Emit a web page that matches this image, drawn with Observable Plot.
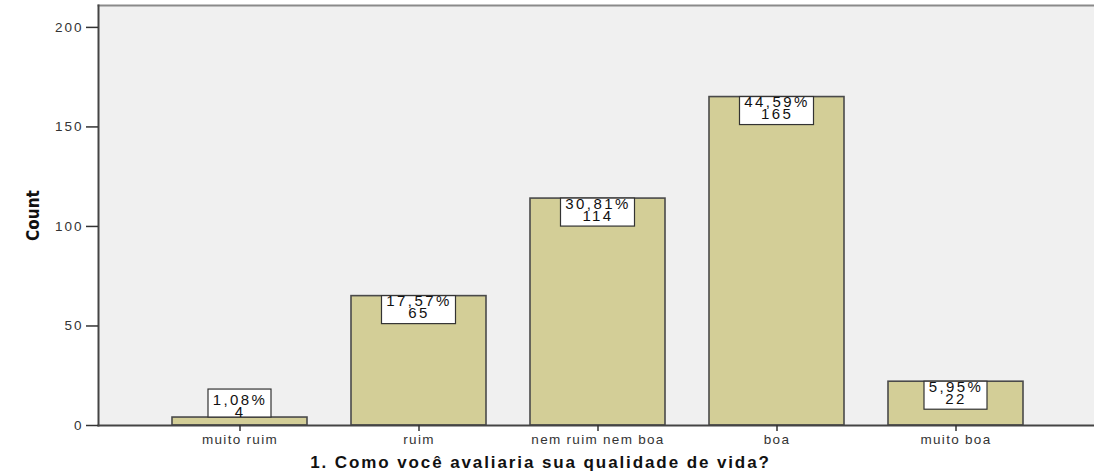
<!DOCTYPE html>
<html>
<head>
<meta charset="utf-8">
<script src="https://cdn.jsdelivr.net/npm/d3@7"></script>
<script src="https://cdn.jsdelivr.net/npm/@observablehq/plot@0.6"></script>
<style>
  html, body { margin: 0; padding: 0; background: #fff; }
  #chart svg { display: block; }
  g[aria-label="x-axis label"] text { font-weight: bold; font-size: 17px; letter-spacing: 1.9px; fill: #111; }
  g[aria-label="y-axis label"] text { font-weight: bold; font-size: 17px; font-family: "Liberation Sans Narrow", "Arial Narrow", "DejaVu Sans Condensed", sans-serif; fill: #111; }
</style>
</head>
<body>
<div id="chart"></div>
<script>
const categories = ["muito ruim", "ruim", "nem ruim nem boa", "boa", "muito boa"];
const counts = [4, 65, 114, 165, 22];
const percents = ["1,08%", "17,57%", "30,81%", "44,59%", "5,95%"];
const yTicks = [0, 50, 100, 150, 200];

const data = categories.map((c, i) => ({
  category: c,
  count: counts[i],
  label: percents[i] + "\n" + counts[i],
  above: counts[i] < 14,
  wide: percents[i].length > 5
}));

const boxH = 28;
const boxes = (filterFn, inL) => Plot.barY(data.filter(filterFn), {
  x: "category", y1: "count", y2: "count",
  fill: "#ffffff", stroke: "#333", strokeWidth: 1.2,
  insetLeft: inL, insetRight: inL,
  insetTop: 0, insetBottom: -boxH
});
const boxesAbove = (filterFn, inL) => Plot.barY(data.filter(filterFn), {
  x: "category", y1: "count", y2: "count",
  fill: "#ffffff", stroke: "#333", strokeWidth: 1.2,
  insetLeft: inL, insetRight: inL,
  insetTop: -boxH, insetBottom: 0
});

const chart = Plot.plot({
  width: 1094,
  height: 472,
  marginLeft: 98,
  marginRight: 0,
  marginTop: 5,
  marginBottom: 47,
  style: { fontFamily: "'Liberation Sans', Arial, sans-serif", fontSize: "13px", color: "#333", background: "#fff" },
  x: { domain: categories, paddingInner: 0.2444, paddingOuter: 0.3889, align: 0.514 },
  y: { domain: [0, 211] },
  marks: [
    Plot.frame({ fill: "#f0f0f0" }),
    Plot.frame({ anchor: "top", stroke: "#8a8a8a", strokeWidth: 2 }),
    Plot.barY(data, { x: "category", y: "count", fill: "#d3ce97", stroke: "#4a4a4a", strokeWidth: 1.6 }),
    boxes(d => !d.above && d.wide, 30.5),
    boxes(d => !d.above && !d.wide, 36),
    boxesAbove(d => d.above && d.wide, 30.5),
    boxesAbove(d => d.above && !d.wide, 36),
    Plot.text(data.filter(d => !d.above), {
      x: "category", y: "count", text: "label",
      lineAnchor: "top", dy: 1.5, lineHeight: 0.8, fontSize: 15, fill: "#111",
      className: "boxlabel"
    }),
    Plot.text(data.filter(d => d.above), {
      x: "category", y: "count", text: "label",
      lineAnchor: "bottom", dy: -1, lineHeight: 0.8, fontSize: 15, fill: "#111",
      className: "boxlabel"
    }),
    Plot.frame({ anchor: "left", stroke: "#444", strokeWidth: 2 }),
    Plot.frame({ anchor: "bottom", stroke: "#444", strokeWidth: 2 }),
    Plot.axisY({
      ticks: yTicks, tickSize: 12, tickPadding: 3, tickFormat: d => String(d),
      label: "Count", labelAnchor: "center", labelArrow: "none", labelOffset: 72,
      fontSize: 13.5, stroke: "#333", strokeWidth: 1.5
    }),
    Plot.axisX({
      tickSize: 6, tickPadding: 3,
      label: "1. Como você avaliaria sua qualidade de vida?", labelAnchor: "center",
      labelArrow: "none", labelOffset: 42, fontSize: 13.5, strokeWidth: 1.5, stroke: "#333"
    })
  ]
});
chart.querySelectorAll('g[aria-label="y-axis tick label"] text').forEach(t => t.style.letterSpacing = "2px");
chart.querySelectorAll('g[aria-label="x-axis tick label"] text').forEach(t => t.style.letterSpacing = "1.3px");
chart.querySelectorAll('g[aria-label="x-axis label"] text').forEach(t => t.setAttribute("dx", "-56"));
chart.querySelectorAll('g.boxlabel text, g.boxlabel tspan').forEach(t => t.style.letterSpacing = "2.4px");
document.getElementById("chart").appendChild(chart);
</script>
</body>
</html>
